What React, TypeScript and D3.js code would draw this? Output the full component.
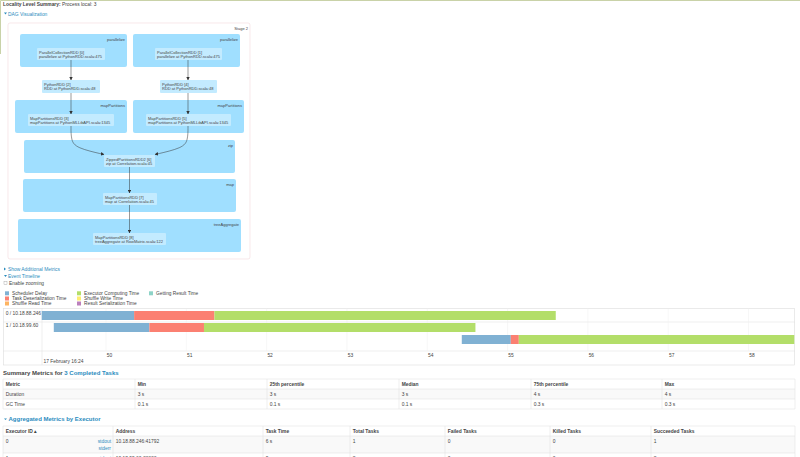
import * as d3 from "d3";

const FONT = "'Liberation Sans', Arial, sans-serif";
const LINK = "#2b8cbe";
const TEXT = "#444";

// DAG clusters and nodes
const clusterLabels = ["parallelize", "parallelize", "mapPartitions", "mapPartitions", "zip", "map", "treeAggregate"];
const clusterBoxes = [
  [20, 34, 127, 67],
  [133, 34, 240, 67],
  [15, 100, 127, 133],
  [133, 100, 244, 133],
  [24, 140, 235, 173],
  [23, 179, 236, 212],
  [18, 219, 241, 252],
];
const nodeLines = [
  ["ParallelCollectionRDD [0]", "parallelize at PythonRDD.scala:475"],
  ["ParallelCollectionRDD [1]", "parallelize at PythonRDD.scala:475"],
  ["PythonRDD [2]", "RDD at PythonRDD.scala:48"],
  ["PythonRDD [4]", "RDD at PythonRDD.scala:48"],
  ["MapPartitionsRDD [3]", "mapPartitions at PythonMLLibAPI.scala:1345"],
  ["MapPartitionsRDD [5]", "mapPartitions at PythonMLLibAPI.scala:1345"],
  ["ZippedPartitionsRDD2 [6]", "zip at Correlation.scala:45"],
  ["MapPartitionsRDD [7]", "map at Correlation.scala:45"],
  ["MapPartitionsRDD [8]", "treeAggregate at RowMatrix.scala:122"],
];
const nodeBoxes = [
  [37, 48, 105, 60],
  [155, 48, 222, 60],
  [42, 80, 100, 93],
  [160, 80, 217, 93],
  [28, 114, 114, 126],
  [146, 114, 231, 126],
  [104, 155, 155, 167],
  [103, 193, 157, 205],
  [93, 233, 166, 245],
];
const straightEdges = [
  [71, 60, 80],
  [188, 60, 80],
  [71, 93, 114],
  [188, 93, 114],
  [129.5, 167, 193],
  [129.5, 205, 233],
];
const zipEdges = [
  [[71, 126], [71, 140], [76, 148], [104, 154.5]],
  [[188, 126], [188, 140], [183, 148], [155, 154.5]],
];

// Timeline
const legendNames = [
  "Scheduler Delay", "Task Deserialization Time", "Shuffle Read Time",
  "Executor Computing Time", "Shuffle Write Time", "Result Serialization Time",
  "Getting Result Time",
];
const legendColors = ["#80b1d3", "#fb8072", "#fdb462", "#b3de69", "#ffed6f", "#bc80bd", "#8dd3c7"];
const legendCols = [5, 77, 149];
const legendRows = [293.3, 298.5, 303.5];
const timeTicks = [50, 51, 52, 53, 54, 55, 56, 57, 58];
const executorLabels = ["0 / 10.18.88.246", "1 / 10.18.99.60"];
const taskRowY = [311, 323, 335];
// seconds at: start, delay end, deserialization end, finish
const taskTimes = [
  [49.2, 50.35, 51.35, 55.6],
  [49.35, 50.54, 51.22, 54.6],
  [54.43, 55.04, 55.14, 58.57],
];
const phaseColors = ["#80b1d3", "#fb8072", "#b3de69"];

// Tables
const summaryCols = [3, 135, 267, 399, 531, 662, 795];
const summaryRows = [379, 389, 399, 409];
const summaryTable = [
  ["Metric", "Min", "25th percentile", "Median", "75th percentile", "Max"],
  ["Duration", "3 s", "3 s", "3 s", "4 s", "4 s"],
  ["GC Time", "0.1 s", "0.1 s", "0.1 s", "0.3 s", "0.3 s"],
];
const execCols = [3, 113, 263, 350, 445, 550, 651, 795];
const execRows = [426, 436, 453, 470];
const execTable = [
  ["Executor ID ▴", "Address", "Task Time", "Total Tasks", "Failed Tasks", "Killed Tasks", "Succeeded Tasks"],
  ["0", "10.18.88.246:41792", "6 s", "1", "0", "0", "1"],
  ["1", "10.18.99.60:33333", "9 s", "2", "0", "0", "2"],
];

const x = d3.scaleLinear().domain([50, 58]).range([106, 748.5]);

function T(props: any) {
  return <text fontFamily={FONT} fontSize={4.9} fill={TEXT} {...props} />;
}

function Table({ cols, rows, cells }: { cols: number[]; rows: number[]; cells: string[][] }) {
  return (
    <g>
      {rows.slice(0, -1).map((r, i) =>
        i % 2 === 1 ? <rect key={r} x={cols[0]} y={r} width={cols[cols.length - 1] - cols[0]} height={rows[i + 1] - r} fill="#f9f9f9" /> : null
      )}
      {rows.map((r) => (
        <line key={r} x1={cols[0]} x2={cols[cols.length - 1]} y1={r} y2={r} stroke="#ddd" strokeWidth={0.5} />
      ))}
      {cols.map((c) => (
        <line key={c} x1={c} x2={c} y1={rows[0]} y2={rows[rows.length - 1]} stroke="#ddd" strokeWidth={0.5} />
      ))}
      {cells.map((row, i) =>
        row.map((cell, j) => (
          <T key={i + "-" + j} x={cols[j] + 2.7} y={rows[i] + 6.8} fontWeight={i === 0 ? "bold" : "normal"}>
            {cell}
          </T>
        ))
      )}
    </g>
  );
}

export default function App() {
  const edgeLine = d3.line().curve(d3.curveBasis);
  return (
    <svg width={800} height={457} viewBox="0 0 800 457" style={{ position: "fixed", left: 0, top: 0, background: "#fff" }}>
      <defs>
        <marker id="arrow" viewBox="0 0 10 10" refX={9} refY={5} markerWidth={3.5} markerHeight={3.5} orient="auto" markerUnits="userSpaceOnUse">
          <path d="M0,0L10,5L0,10z" fill="#333" />
        </marker>
      </defs>
      <path d="M800,0.5H0.5V54" fill="none" stroke="#c9d2a8" strokeWidth={1} />

      <T x={3} y={5.5}>
        <tspan fontWeight="bold">Locality Level Summary:</tspan> Process local: 3
      </T>
      <path d="M4,12.5h3l-1.5,2z" fill={LINK} />
      <T x={8} y={16} fill={LINK}>DAG Visualization</T>

      <rect x={8} y={23} width={242} height={236} rx={2} fill="#fff" stroke="#f4d9dc" strokeWidth={0.6} />
      <T x={248} y={29.7} textAnchor="end" fontSize={4}>Stage 2</T>
      {clusterBoxes.map(([a, b, c, d], i) => (
        <g key={i}>
          <rect x={a} y={b} width={c - a} height={d - b} rx={2} fill="#a0dfff" />
          <T x={c - 2} y={b + 6.8} textAnchor="end" fontSize={4}>{clusterLabels[i]}</T>
        </g>
      ))}
      {nodeBoxes.map(([a, b, c, d], i) => (
        <g key={i}>
          <rect x={a} y={b} width={c - a} height={d - b} rx={1} fill="#c3ebff" />
          <T x={a + 2} y={b + 5.6} fontSize={4}>{nodeLines[i][0]}</T>
          <T x={a + 2} y={b + 10} fontSize={4}>{nodeLines[i][1]}</T>
        </g>
      ))}
      {straightEdges.map(([ex, y1, y2], i) => (
        <line key={i} x1={ex} x2={ex} y1={y1} y2={y2} stroke="#333" strokeWidth={0.5} markerEnd="url(#arrow)" />
      ))}
      {zipEdges.map((pts, i) => (
        <path key={i} d={edgeLine(pts as [number, number][]) || ""} fill="none" stroke="#333" strokeWidth={0.5} markerEnd="url(#arrow)" />
      ))}

      <path d="M4,267.5v3l2,-1.5z" fill={LINK} />
      <T x={8} y={271} fill={LINK}>Show Additional Metrics</T>
      <path d="M4,275h3l-1.5,2z" fill={LINK} />
      <T x={8} y={278} fill={LINK}>Event Timeline</T>
      <rect x={4} y={281.5} width={3} height={3} fill="#fff" stroke="#999" strokeWidth={0.4} />
      <T x={9} y={285}>Enable zooming</T>

      {legendNames.map((name, i) => {
        const col = i < 3 ? 0 : i < 6 ? 1 : 2;
        const row = i < 3 ? i : i < 6 ? i - 3 : 0;
        return (
          <g key={name}>
            <rect x={legendCols[col]} y={legendRows[row] - 2} width={4} height={4} fill={legendColors[i]} />
            <T x={legendCols[col] + 7} y={legendRows[row] + 1.7} fontSize={4.8}>{name}</T>
          </g>
        );
      })}

      <rect x={3.5} y={308.5} width={791} height={56.5} fill="#fff" stroke="#ddd" strokeWidth={0.6} />
      <line x1={3.5} x2={794.5} y1={322} y2={322} stroke="#ddd" strokeWidth={0.5} />
      <line x1={3.5} x2={794.5} y1={351} y2={351} stroke="#ddd" strokeWidth={0.5} />
      <line x1={42} x2={42} y1={308.5} y2={365} stroke="#ddd" strokeWidth={0.5} />
      {timeTicks.map((t) => (
        <g key={t}>
          <line x1={x(t)} x2={x(t)} y1={308.5} y2={351} stroke="#eee" strokeWidth={0.5} />
          <T x={x(t) + 3.5} y={356.5} textAnchor="middle">{t}</T>
        </g>
      ))}
      {taskTimes.map((task, i) =>
        phaseColors.map((color, j) => (
          <rect key={i + "-" + j} x={x(task[j])} y={taskRowY[i]} width={x(task[j + 1]) - x(task[j])} height={9} fill={color} />
        ))
      )}
      {executorLabels.map((label, i) => (
        <T key={label} x={5.7} y={i === 0 ? 314.5 : 326.7}>{label}</T>
      ))}
      <T x={43.5} y={362.7}>17 February 16:24</T>

      <T x={3} y={374.5} fontWeight="bold" fontSize={6}>
        Summary Metrics for <tspan fill={LINK}>3 Completed Tasks</tspan>
      </T>
      <Table cols={summaryCols} rows={summaryRows} cells={summaryTable} />

      <path d="M4,418.5h3l-1.5,1.5z" fill={LINK} />
      <T x={8.5} y={421} fontWeight="bold" fontSize={6} fill={LINK}>Aggregated Metrics by Executor</T>
      <Table cols={execCols} rows={execRows} cells={execTable} />
      <T x={111} y={443} textAnchor="end" fill={LINK}>stdout</T>
      <T x={111} y={450} textAnchor="end" fill={LINK}>stderr</T>
      <T x={111} y={460} textAnchor="end" fill={LINK}>stdout</T>
    </svg>
  );
}
